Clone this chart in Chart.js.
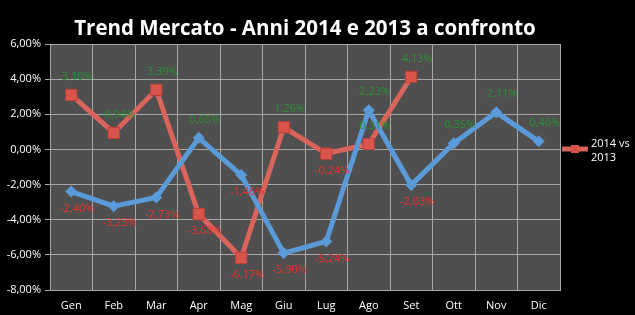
<!DOCTYPE html>
<html>
<head>
<meta charset="utf-8">
<script src="https://cdn.jsdelivr.net/npm/chart.js@4.4.0/dist/chart.umd.min.js"></script>
<style>
  html, body { margin: 0; padding: 0; background: #000; }
  #wrap { width: 635px; height: 315px; }
</style>
</head>
<body>
<div id="wrap"><canvas id="graphe"></canvas></div>
<script>
// Mesi
const mesi = ['Gen', 'Feb', 'Mar', 'Apr', 'Mag', 'Giu', 'Lug', 'Ago', 'Set', 'Ott', 'Nov', 'Dic'];
// Serie 2014 vs 2013 (rossa)
const trend2014 = [3.10, 0.94, 3.39, -3.68, -6.17, 1.26, -0.24, 0.31, 4.13, null, null, null];
// Serie 2013 (blu)
const trend2013 = [-2.40, -3.23, -2.73, 0.66, -1.46, -5.90, -5.24, 2.23, -2.03, 0.35, 2.11, 0.46];
// Asse y
const yMin = -8;
const yMax = 6;
const yStep = 2;

function fmt(v) {
    return v.toFixed(2).replace('.', ',') + '%';
}

// sfondo grigio dell'area del grafico + titolo
const plotBg = {
    id: 'plotBg',
    beforeDraw(chart) {
        const a = chart.chartArea;
        const ctx = chart.ctx;
        ctx.save();
        ctx.fillStyle = '#4f4f4f';
        ctx.fillRect(a.left, a.top, a.right - a.left, a.bottom - a.top);
        ctx.fillStyle = '#fff';
        ctx.font = 'bold 20.5px "Open Sans"';
        ctx.textAlign = 'center';
        ctx.textBaseline = 'middle';
        ctx.fillText('Trend Mercato - Anni 2014 e 2013 a confronto', 305, 29);
        ctx.restore();
    }
};

// etichette dei valori: verdi se positive, rosse se negative
const valueLabels = {
    id: 'valueLabels',
    afterDatasetsDraw(chart) {
        const ctx = chart.ctx;
        ctx.save();
        ctx.font = '11px "Open Sans"';
        ctx.textAlign = 'center';
        ctx.textBaseline = 'middle';
        chart.data.datasets.forEach((ds, i) => {
            const meta = chart.getDatasetMeta(i);
            meta.data.forEach((pt, j) => {
                const v = ds.data[j];
                if (v === null) return;
                ctx.fillStyle = v >= 0 ? '#2c9033' : '#e8322c';
                const dy = v >= 0 ? -18 : 17;
                ctx.fillText(fmt(v), pt.x + 6, pt.y + dy);
            });
        });
        ctx.restore();
    }
};

// legenda a destra su due righe
const sideLegend = {
    id: 'sideLegend',
    afterDraw(chart) {
        const ctx = chart.ctx;
        const x = chart.chartArea.right + 2;
        const y = 149;
        ctx.save();
        ctx.strokeStyle = '#d9645c';
        ctx.lineWidth = 5;
        ctx.beginPath();
        ctx.moveTo(x, y);
        ctx.lineTo(x + 26, y);
        ctx.stroke();
        ctx.fillStyle = '#d9544b';
        ctx.fillRect(x + 9, y - 4, 8, 8);
        ctx.fillStyle = '#fff';
        ctx.font = '11px "Open Sans"';
        ctx.textBaseline = 'middle';
        ctx.fillText('2014 vs', x + 29, y - 5);
        ctx.fillText('2013', x + 29, y + 9);
        ctx.restore();
    }
};

const ctx = document.getElementById('graphe').getContext('2d');
const chart = new Chart(ctx, {
    type: 'line',
    data: {
        labels: mesi,
        datasets: [{
            label: '2013',
            data: trend2013,
            borderColor: '#5b9ad8',
            backgroundColor: '#5b9ad8',
            borderWidth: 5,
            pointStyle: 'rectRot',
            pointRadius: 6,
            pointBorderWidth: 0,
            tension: 0
        }, {
            label: '2014 vs 2013',
            data: trend2014,
            borderColor: '#d9645c',
            backgroundColor: '#d9544b',
            borderWidth: 5,
            pointStyle: 'rect',
            pointRadius: 8,
            pointBorderColor: '#b8413a',
            pointBorderWidth: 1,
            tension: 0
        }]
    },
    options: {
        responsive: true,
        maintainAspectRatio: false,
        animation: false,
        layout: { padding: { left: 0, right: 75, top: 44, bottom: 2 } },
        plugins: {
            legend: { display: false },
            tooltip: { enabled: false },
            title: { display: false }
        },
        scales: {
            x: {
                offset: true,
                grid: { color: '#a8a8a8', lineWidth: 1, offset: true, drawTicks: false },
                border: { color: '#a8a8a8' },
                ticks: { color: '#fff', font: { family: '"Open Sans"', size: 11 }, padding: 9 },
                afterFit(scale) { scale.height = 23; }
            },
            y: {
                min: yMin,
                max: yMax,
                grid: { color: '#a8a8a8', lineWidth: 1, drawTicks: true, tickLength: 5, tickColor: '#a8a8a8' },
                border: { color: '#a8a8a8' },
                ticks: {
                    stepSize: yStep,
                    color: '#fff',
                    font: { family: '"Open Sans"', size: 11 },
                    padding: 4,
                    callback: v => fmt(v)
                },
                afterFit(scale) { scale.width = 50; }
            }
        }
    },
    plugins: [plotBg, valueLabels, sideLegend]
});
</script>
</body>
</html>
